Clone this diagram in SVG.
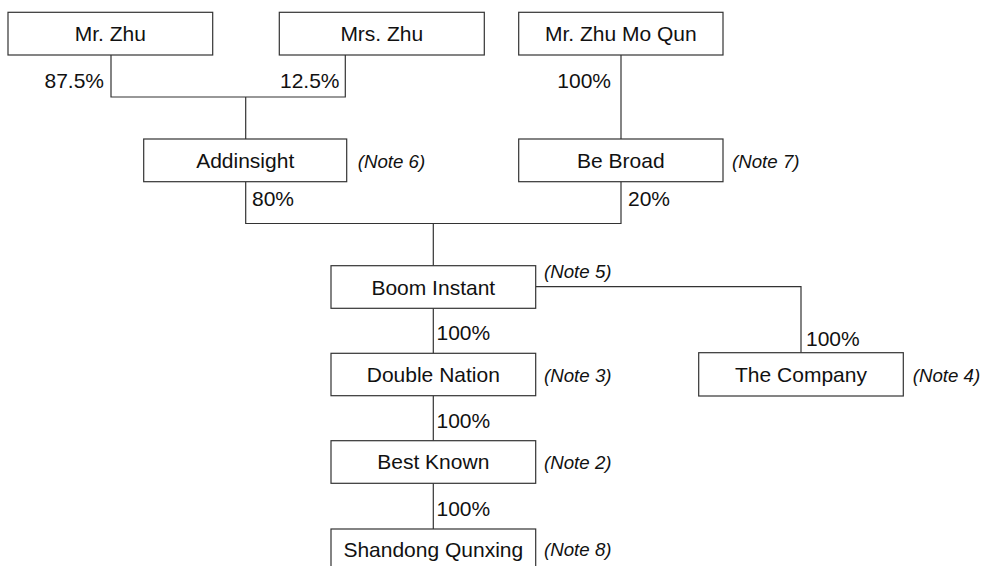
<svg xmlns="http://www.w3.org/2000/svg" width="982" height="566" viewBox="0 0 982 566">
<style>
.box{fill:#fff;stroke:#333;stroke-width:1.2}
.lbl{font-family:"Liberation Sans",Arial,sans-serif;font-size:21px;fill:#111;text-anchor:middle}
.pct{font-family:"Liberation Sans",Arial,sans-serif;font-size:21px;fill:#111}
.note{font-family:"Liberation Sans",Arial,sans-serif;font-size:18.7px;font-style:italic;fill:#111}
.con{fill:none;stroke:#333;stroke-width:1.2}
</style>
<rect width="982" height="566" fill="#fff"/>
<g id="connectors">
<path class="con" d="M111 55V97H345.3V55M245.7 97V139"/>
<path class="con" d="M621 55V139"/>
<path class="con" d="M245.7 181.7V223.5H621V181.7M433.3 223.5V265.7"/>
<path class="con" d="M535.7 286.7H801V352.7"/>
<path class="con" d="M433.3 308.3V353.3"/>
<path class="con" d="M433.3 395.7V440.7"/>
<path class="con" d="M433.3 483.3V529"/>
<text class="pct" x="104" y="87.5" text-anchor="end">87.5%</text>
<text class="pct" x="339.5" y="87.5" text-anchor="end">12.5%</text>
<text class="pct" x="611" y="88" text-anchor="end">100%</text>
<text class="pct" x="252" y="205.5">80%</text>
<text class="pct" x="628" y="205.5">20%</text>
<text class="pct" x="436.5" y="340">100%</text>
<text class="pct" x="806" y="346">100%</text>
<text class="pct" x="436.5" y="428">100%</text>
<text class="pct" x="436.5" y="515.5">100%</text>
</g>
<g id="mr-zhu"><rect class="box" x="8" y="12.3" width="204.7" height="42.7"/><text class="lbl" x="110.3" y="41">Mr. Zhu</text></g>
<g id="mrs-zhu"><rect class="box" x="279.3" y="12.3" width="205" height="42.7"/><text class="lbl" x="381.8" y="41">Mrs. Zhu</text></g>
<g id="mr-zhu-mo-qun"><rect class="box" x="518.7" y="12.3" width="204.3" height="42.7"/><text class="lbl" x="620.8" y="41">Mr. Zhu Mo Qun</text></g>
<g id="addinsight"><rect class="box" x="143.7" y="139" width="203" height="42.7"/><text class="lbl" x="245.2" y="167.5">Addinsight</text><text class="note" x="357.7" y="167.5">(Note 6)</text></g>
<g id="be-broad"><rect class="box" x="518.7" y="139" width="204.3" height="42.7"/><text class="lbl" x="620.8" y="167.5">Be Broad</text><text class="note" x="732" y="167.5">(Note 7)</text></g>
<g id="boom-instant"><rect class="box" x="331" y="265.7" width="204.7" height="42.6"/><text class="lbl" x="433.3" y="294.5">Boom Instant</text><text class="note" x="544" y="278">(Note 5)</text></g>
<g id="double-nation"><rect class="box" x="331" y="353.3" width="204.7" height="42.4"/><text class="lbl" x="433.3" y="382">Double Nation</text><text class="note" x="544" y="381.5">(Note 3)</text></g>
<g id="the-company"><rect class="box" x="698.7" y="352.7" width="204.6" height="43.3"/><text class="lbl" x="801" y="382">The Company</text><text class="note" x="912.7" y="381.5">(Note 4)</text></g>
<g id="best-known"><rect class="box" x="331" y="440.7" width="204.7" height="42.6"/><text class="lbl" x="433.3" y="469.3">Best Known</text><text class="note" x="544" y="468.5">(Note 2)</text></g>
<g id="shandong-qunxing"><rect class="box" x="331" y="529" width="204.7" height="48"/><text class="lbl" x="433.3" y="556.5">Shandong Qunxing</text><text class="note" x="544" y="555.5">(Note 8)</text></g>
</svg>
